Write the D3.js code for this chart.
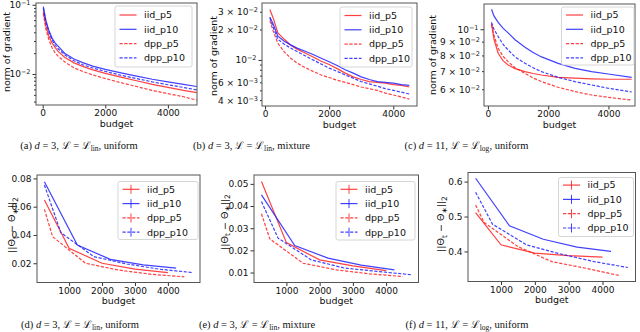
<!DOCTYPE html>
<html>
<meta charset="utf-8">
<style>
body { margin: 0; background: #fff; }
svg { font-family: "DejaVu Sans", sans-serif; }
.frame { fill: none; stroke: #555; stroke-width: 1; }
.axis .domain { display: none; }
.axis line { stroke: #333; }
.axis text { font-family: "DejaVu Sans", sans-serif; font-size: 9px; fill: #111; }
.lab { font-size: 9.5px; fill: #111; }
.caption { font-family: "Liberation Serif", "DejaVu Serif", serif; font-size: 10.5px; fill: #111; }
.legbox { fill: #fff; fill-opacity: 0.85; stroke: #ccc; stroke-width: 0.8; }
</style>
<body>
<script src="https://d3js.org/d3.v7.min.js"></script>
<script>
// ---- data ----
var seriesNames = ["iid_p5", "iid_p10", "dpp_p5", "dpp_p10"];

// (a) norm of gradient, d=3 lin uniform
var budgetA = [20, 100, 200, 300, 400, 500, 700, 1000, 1300, 1600, 2000, 2500, 3000, 3500, 4000, 4500, 4920];
var iid5A  = [0.080, 0.050, 0.035, 0.028, 0.024, 0.021, 0.0175, 0.0145, 0.0128, 0.0115, 0.0102, 0.0090, 0.0080, 0.0071, 0.0064, 0.0058, 0.0054];
var iid10A = [0.094, 0.060, 0.042, 0.033, 0.028, 0.025, 0.020, 0.0165, 0.0145, 0.0130, 0.0117, 0.0104, 0.0093, 0.0084, 0.0077, 0.0071, 0.0066];
var dpp5A  = [0.075, 0.045, 0.031, 0.024, 0.020, 0.018, 0.015, 0.0123, 0.0108, 0.0097, 0.0086, 0.0075, 0.0066, 0.0058, 0.0052, 0.0047, 0.0042];
var dpp10A = [0.090, 0.057, 0.040, 0.031, 0.026, 0.023, 0.019, 0.0155, 0.0135, 0.0122, 0.0109, 0.0096, 0.0086, 0.0077, 0.0070, 0.0064, 0.0059];

// (b) norm of gradient, d=3 lin mixture
var budgetB = [150, 250, 400, 600, 800, 1000, 1250, 1500, 1750, 2000, 2250, 2500, 2750, 3000, 3250, 3500, 3750, 4000, 4250, 4500];
var iid5B  = [0.0315, 0.0262, 0.0185, 0.0160, 0.0140, 0.0128, 0.0117, 0.0107, 0.0097, 0.0090, 0.0082, 0.0074, 0.0068, 0.0064, 0.0061, 0.0060, 0.0059, 0.0057, 0.0056, 0.0054];
var iid10B = [0.0265, 0.0228, 0.0172, 0.0153, 0.0141, 0.0131, 0.0122, 0.0113, 0.0104, 0.0096, 0.0088, 0.0080, 0.0074, 0.0068, 0.0064, 0.0061, 0.0060, 0.0059, 0.0057, 0.0056];
var dpp5B  = [0.0245, 0.0195, 0.0146, 0.0120, 0.0104, 0.0093, 0.0084, 0.0077, 0.0071, 0.0067, 0.0063, 0.0060, 0.0057, 0.0054, 0.0052, 0.0050, 0.0047, 0.0045, 0.0043, 0.0041];
var dpp10B = [0.0262, 0.0212, 0.0160, 0.0143, 0.0131, 0.0121, 0.0110, 0.0100, 0.0091, 0.0083, 0.0077, 0.0071, 0.0066, 0.0061, 0.0058, 0.0055, 0.0052, 0.0050, 0.0048, 0.0046];

// (c) norm of gradient, d=11 log uniform
var budgetC = [120, 200, 340, 500, 670, 900, 1230, 1500, 1780, 2330, 2890, 3440, 3990, 4770];
var iid5C  = [0.105, 0.092, 0.0815, 0.0765, 0.0738, 0.0715, 0.0697, 0.0686, 0.0677, 0.0664, 0.0659, 0.0655, 0.0653, 0.0653];
var iid10C = [0.1186, 0.112, 0.106, 0.101, 0.097, 0.0915, 0.0858, 0.082, 0.079, 0.0748, 0.0717, 0.0697, 0.0683, 0.0664];
var dpp5C  = [0.1037, 0.095, 0.085, 0.0795, 0.0759, 0.072, 0.0687, 0.066, 0.064, 0.061, 0.0588, 0.0571, 0.056, 0.0547];
var dpp10C = [0.106, 0.100, 0.094, 0.088, 0.0838, 0.079, 0.0748, 0.072, 0.0697, 0.0664, 0.064, 0.0622, 0.0605, 0.0586];

// bottom row: parameter error, budgets per series
var budgetIid5  = [250, 1000, 2000, 3000, 4000];
var budgetIid10 = [250, 1250, 2250, 3250, 4250];
var budgetDpp5  = [250, 500, 1500, 2500, 3500, 4500];
var budgetDpp10 = [250, 750, 1750, 2750, 3750, 4750];

var iid5D  = [0.0647, 0.0306, 0.0200, 0.0158, 0.0134];
var iid10D = [0.0776, 0.0329, 0.0228, 0.0188, 0.0165];
var dpp5D  = [0.0581, 0.0388, 0.0200, 0.0152, 0.0122, 0.0104];
var dpp10D = [0.0753, 0.0416, 0.0247, 0.0195, 0.0158, 0.0134];

var iid5E  = [0.0511, 0.0235, 0.0157, 0.0130, 0.0109];
var iid10E = [0.0450, 0.0222, 0.0165, 0.0133, 0.0112];
var dpp5E  = [0.0365, 0.0252, 0.0142, 0.0112, 0.0094, 0.0082];
var dpp10E = [0.0420, 0.0255, 0.0157, 0.0120, 0.0105, 0.0090];

var iid5F  = [0.511, 0.419, 0.395, 0.388, 0.384];
var iid10F = [0.6095, 0.4733, 0.435, 0.4124, 0.400];
var dpp5F  = [0.533, 0.483, 0.414, 0.371, 0.352, 0.331];
var dpp10F = [0.5695, 0.478, 0.419, 0.393, 0.371, 0.354];

// tick labels
var xTicksTop = [0, 2000, 4000];
var xTicksBottom = [1000, 2000, 3000, 4000];
var yTicksA = [0.1, 0.01];
var yLabelsA = ["10^\u22121", "10^\u22122"];
var yMinorA = [0.004, 0.005, 0.006, 0.007, 0.008, 0.009, 0.02, 0.03, 0.04, 0.05, 0.06, 0.07, 0.08, 0.09];
var yTicksB = [0.03, 0.02, 0.01, 0.006, 0.004];
var yLabelsB = ["3 \u00d7 10^\u22122", "2 \u00d7 10^\u22122", "10^\u22122", "6 \u00d7 10^\u22123", "4 \u00d7 10^\u22123"];
var yMinorB = [0.005, 0.007, 0.008, 0.009];
var yTicksC = [0.1, 0.09, 0.08, 0.07, 0.06];
var yLabelsC = ["10^\u22121", "9 \u00d7 10^\u22122", "8 \u00d7 10^\u22122", "7 \u00d7 10^\u22122", "6 \u00d7 10^\u22122"];
var yTicksD = [0.02, 0.04, 0.06, 0.08];
var yTicksE = [0.01, 0.02, 0.03, 0.04, 0.05];
var yTicksF = [0.4, 0.5, 0.6];

var captionLetters = ["a", "b", "c", "d", "e", "f"];
var captionDims = ["3", "3", "11", "3", "3", "11"];
var captionLoss = ["lin", "lin", "log", "lin", "lin", "log"];
var captionDist = ["uniform", "mixture", "uniform", "uniform", "mixture", "uniform"];

// ---- styles ----
var colors = ["#ff2020", "#2020ff", "#ff2020", "#2020ff"];
var dashes = [null, null, "3.2,1.6", "3.2,1.6"];

var svg = d3.select("body").append("svg").attr("width", 640).attr("height", 332);

function addSup(sel, label) {
	var parts = label.split("^");
	sel.text(null);
	sel.append("tspan").text(parts[0]);
	if (parts[1]) sel.append("tspan").attr("dy", "-0.45em").attr("font-size", "6.5px").text(parts[1]);
}

function drawPanel(p) {
	var x = d3.scaleLinear().domain(p.xdom).range([p.x0, p.x1]);
	var y = (p.log ? d3.scaleLog() : d3.scaleLinear()).domain(p.ydom).range([p.y1, p.y0]);
	var g = svg.append("g");

	g.append("g").attr("class", "axis")
		.attr("transform", "translate(0," + p.y1 + ")")
		.call(d3.axisBottom(x).tickValues(p.xticks).tickSize(3.5).tickPadding(1.5).tickFormat(d3.format("d")));

	if (p.yminor)
		g.append("g").attr("class", "axis")
			.attr("transform", "translate(" + p.x0 + ",0)")
			.call(d3.axisLeft(y).tickValues(p.yminor).tickSize(2).tickFormat(""));

	var ya = g.append("g").attr("class", "axis")
		.attr("transform", "translate(" + p.x0 + ",0)")
		.call(d3.axisLeft(y).tickValues(p.yticks).tickSize(3.5).tickPadding(2)
			.tickFormat(p.yfmt || ""));
	if (p.ymajor) {
		ya.selectAll(".tick line").attr("x2", function(d) { return p.ymajor.indexOf(d) >= 0 ? -3.5 : -2; });
		ya.selectAll(".tick text").attr("x", function(d) { return p.ymajor.indexOf(d) >= 0 ? -5.5 : -4; });
	}
	if (p.ylabels)
		ya.selectAll(".tick text").each(function(d, i) { addSup(d3.select(this), p.ylabels[i]); });

	var line = d3.line().x(function(d) { return x(d[0]); }).y(function(d) { return y(d[1]); });
	p.series.forEach(function(s, i) {
		g.append("path")
			.datum(d3.zip(s[0], s[1]))
			.attr("d", line)
			.attr("fill", "none")
			.attr("stroke", colors[i])
			.attr("stroke-opacity", 0.85)
			.attr("stroke-width", 1.2)
			.attr("stroke-dasharray", dashes[i]);
	});

	g.append("rect").attr("class", "frame")
		.attr("x", p.x0).attr("y", p.y0)
		.attr("width", p.x1 - p.x0).attr("height", p.y1 - p.y0);

	g.append("text").attr("class", "lab")
		.attr("x", (p.x0 + p.x1) / 2).attr("y", p.y1 + 21.5)
		.attr("text-anchor", "middle")
		.text("budget");

	// y label
	var yl = g.append("text").attr("class", "lab")
		.attr("transform", "translate(" + p.ylx + "," + p.yly + ") rotate(-90)")
		.attr("text-anchor", "middle")
		.attr("dy", "0.35em");
	if (p.err) {
		yl.attr("font-size", "11px");
		yl.append("tspan").text("||\u0398");
		yl.append("tspan").attr("font-size", "7.5px").attr("dy", 2.5).text("t");
		yl.append("tspan").attr("dy", -2.5).text(" \u2212 \u0398");
		yl.append("tspan").attr("font-size", "7.5px").attr("dy", 2.5).text("\u2217");
		yl.append("tspan").attr("dy", -2.5).text("||");
		yl.append("tspan").attr("font-size", "7.5px").attr("dy", 2.5).text("2");
	} else {
		yl.text("norm of gradient");
	}

	// legend
	var L = p.leg;
	var lg = g.append("g").attr("transform", "translate(" + L[0] + "," + L[1] + ")");
	lg.append("rect").attr("class", "legbox")
		.attr("width", L[2]).attr("height", L[3]).attr("rx", 2);
	seriesNames.forEach(function(name, i) {
		var ry = L[4] + i * 14.3;
		lg.append("line")
			.attr("x1", 4.5).attr("x2", 21.5).attr("y1", ry).attr("y2", ry)
			.attr("stroke", colors[i]).attr("stroke-opacity", 0.85)
			.attr("stroke-width", 1.2).attr("stroke-dasharray", dashes[i]);
		if (p.err)
			lg.append("line")
				.attr("x1", 13).attr("x2", 13).attr("y1", ry - 4.5).attr("y2", ry + 4.5)
				.attr("stroke", colors[i]).attr("stroke-opacity", 0.85).attr("stroke-width", 1);
		lg.append("text").attr("class", "lab")
			.attr("x", 29).attr("y", ry).attr("dy", "0.35em")
			.attr("font-size", "10px")
			.text(name);
	});
}

drawPanel({x0: 36, x1: 197, y0: 3, y1: 105, xdom: [-214, 4930], ydom: [0.00357, 0.106], log: true,
	xticks: xTicksTop, yticks: yTicksA, ylabels: yLabelsA, yminor: yMinorA,
	ylx: 6.5, yly: 52, leg: [115, 6, 77, 61, 9],
	series: [[budgetA, iid5A], [budgetA, iid10A], [budgetA, dpp5A], [budgetA, dpp10A]]});

drawPanel({x0: 262, x1: 417, y0: 3, y1: 106, xdom: [-95, 4740], ydom: [0.0035, 0.0366], log: true,
	xticks: xTicksTop, yticks: yTicksB, ylabels: yLabelsB, yminor: yMinorB, ymajor: [0.01],
	ylx: 214, yly: 56, leg: [340, 7, 72, 60, 8.5],
	series: [[budgetB, iid5B], [budgetB, iid10B], [budgetB, dpp5B], [budgetB, dpp10B]]});

drawPanel({x0: 484, x1: 635, y0: 4, y1: 106, xdom: [-130, 4880], ydom: [0.052, 0.124], log: true,
	xticks: xTicksTop, yticks: yTicksC, ylabels: yLabelsC, ymajor: [0.1],
	ylx: 432.5, yly: 55, leg: [561.5, 7, 72.5, 58, 8],
	series: [[budgetC, iid5C], [budgetC, iid10C], [budgetC, dpp5C], [budgetC, dpp10C]]});

drawPanel({x0: 37, x1: 200, y0: 175, y1: 282.5, xdom: [25, 4975], ydom: [0.0064, 0.0824], err: true,
	xticks: xTicksBottom, yticks: yTicksD, yfmt: d3.format(".2f"),
	ylx: 12, yly: 225, leg: [118, 181.5, 80, 58, 7.8],
	series: [[budgetIid5, iid5D], [budgetIid10, iid10D], [budgetDpp5, dpp5D], [budgetDpp10, dpp10D]]});

drawPanel({x0: 254, x1: 418.5, y0: 175, y1: 282.5, xdom: [25, 4975], ydom: [0.0055, 0.054], err: true,
	xticks: xTicksBottom, yticks: yTicksE, yfmt: d3.format(".2f"),
	ylx: 224.5, yly: 222, leg: [336, 181.5, 79, 58.5, 7.8],
	series: [[budgetIid5, iid5E], [budgetIid10, iid10E], [budgetDpp5, dpp5E], [budgetDpp10, dpp10E]]});

drawPanel({x0: 468, x1: 635.5, y0: 172.5, y1: 281.5, xdom: [25, 4975], ydom: [0.314, 0.626], err: true,
	xticks: xTicksBottom, yticks: yTicksF, yfmt: d3.format(".1f"),
	ylx: 441, yly: 224, leg: [558.5, 177.5, 75, 59, 7.6],
	series: [[budgetIid5, iid5F], [budgetIid10, iid10F], [budgetDpp5, dpp5F], [budgetDpp10, dpp10F]]});

// captions
var capX = [79, 251.5, 466.5, 80, 257, 467];
var capY = [148.5, 148.5, 148.5, 327.5, 327.5, 327.5];
captionLetters.forEach(function(c, i) {
	var t = svg.append("text").attr("class", "caption")
		.attr("x", capX[i]).attr("y", capY[i]).attr("text-anchor", "middle");
	t.append("tspan").text("(" + c + ") ");
	t.append("tspan").attr("font-style", "italic").text("d");
	t.append("tspan").text(" = " + captionDims[i] + ", ");
	t.append("tspan").text("\u2112 = \u2112");
	t.append("tspan").attr("font-size", "7.5px").attr("dy", 2).text(captionLoss[i]);
	t.append("tspan").attr("dy", -2).text(", " + captionDist[i]);
});
</script>
</body>
</html>
